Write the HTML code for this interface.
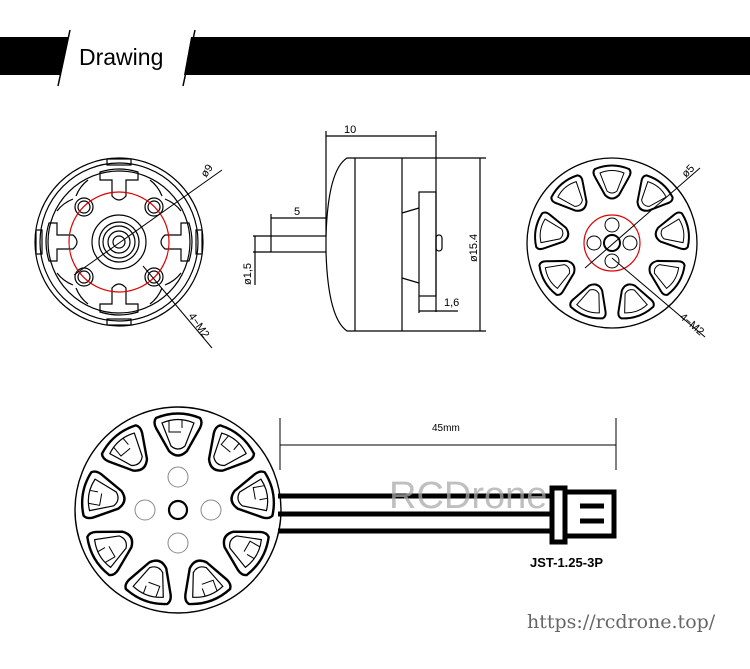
<!DOCTYPE html>
<html><head><meta charset="utf-8"><style>
body{margin:0;background:#fff;width:750px;height:669px;overflow:hidden}
svg{display:block}
text{font-family:"Liberation Sans",sans-serif}
</style></head><body>
<svg width="750" height="669" viewBox="0 0 750 669" xmlns="http://www.w3.org/2000/svg">
<defs>
<g id="pk">
 <path d="M-22,-18 Q0,-27 22,-18 Q25,-14 22,-8 L9,15 Q0,24 -9,15 L-22,-8 Q-25,-14 -22,-18Z" fill="none" stroke="#000" stroke-width="2.4"/>
 <path d="M-16,-13 Q0,-20 16,-13 L7,10 Q0,16 -7,10Z" fill="none" stroke="#000" stroke-width="1.2"/>
 <path d="M-9,-15 L-9,-4 L3,-4 M4,-16 L4,-8" fill="none" stroke="#000" stroke-width="1"/>
</g>
<g id="pk2">
 <path d="M-17,-14 Q0,-21 17,-14 Q20,-11 17,-6 L7,12 Q0,19 -7,12 L-17,-6 Q-20,-11 -17,-14Z" fill="none" stroke="#000" stroke-width="2"/>
 <path d="M-12,-10 Q0,-15 12,-10 L5,8 Q0,12 -5,8Z" fill="none" stroke="#000" stroke-width="1"/>
</g>
</defs>
<!-- header -->
<polygon points="0,37 68,37 60,75 0,75" fill="#000"/>
<polygon points="191,37 750,37 750,75 184,75" fill="#000"/>
<line x1="70" y1="30" x2="58" y2="86" stroke="#000" stroke-width="1.5"/>
<line x1="195" y1="30" x2="183" y2="86" stroke="#000" stroke-width="1.5"/>
<text x="79" y="65" font-size="23" fill="#000">Drawing</text>

<!-- left front view -->
<g fill="none" stroke="#000" stroke-width="1.2">
<circle cx="119" cy="242" r="84"/>
<circle cx="119" cy="242" r="79"/>
<circle cx="119" cy="242" r="71"/>
<g id="tt">
<path d="M100,172 Q119,166 138,172 L138,180 L126,180 L126,196 Q119,204 112,196 L112,180 L100,180Z"/>
<rect x="107" y="159" width="24" height="6"/>
<path d="M88,180 Q80,186 76,196 M150,180 Q158,186 162,196"/>
</g>
<use href="#tt" transform="rotate(90 119 242)"/>
<use href="#tt" transform="rotate(180 119 242)"/>
<use href="#tt" transform="rotate(270 119 242)"/>
<circle cx="84" cy="207" r="9"/><circle cx="84" cy="207" r="6"/>
<circle cx="154" cy="207" r="9"/><circle cx="154" cy="207" r="6"/>
<circle cx="84" cy="277" r="9"/><circle cx="84" cy="277" r="6"/>
<circle cx="154" cy="277" r="9"/><circle cx="154" cy="277" r="6"/>
<circle cx="119" cy="242" r="27"/>
<circle cx="119" cy="242" r="20"/>
<circle cx="119" cy="242" r="16"/>
<circle cx="119" cy="242" r="11"/>
<circle cx="119" cy="242" r="6"/>
</g>
<circle cx="119" cy="242" r="50" fill="none" stroke="#d00" stroke-width="1.2"/>
<line x1="74" y1="275" x2="222" y2="170" stroke="#000" stroke-width="1"/>
<line x1="143" y1="266" x2="212" y2="348" stroke="#000" stroke-width="1"/>
<text font-size="11" transform="translate(206,178) rotate(-55)">ø9</text>
<text font-size="11" transform="translate(188,316) rotate(55)">4−M2</text>

<!-- side view -->
<g fill="none" stroke="#000" stroke-width="1.2">
<line x1="326" y1="136" x2="436" y2="136"/>
<line x1="326" y1="131" x2="326" y2="236"/>
<line x1="436" y1="131" x2="436" y2="312"/>
<path d="M402,158 L347,158 Q328,170 326,236"/>
<path d="M326,252 Q328,318 347,331 L402,331"/>
<line x1="402" y1="158" x2="402" y2="331"/>
<line x1="355" y1="158" x2="355" y2="331"/>
<line x1="402" y1="158" x2="486" y2="158"/>
<line x1="402" y1="331" x2="486" y2="331"/>
<line x1="480" y1="158" x2="480" y2="331"/>
<rect x="419" y="192" width="17" height="104"/>
<line x1="402" y1="213" x2="419" y2="208"/>
<line x1="402" y1="278" x2="419" y2="283"/>
<rect x="436" y="235" width="6" height="16" rx="3"/>
<rect x="271" y="236" width="55" height="16"/>
<line x1="271" y1="218" x2="326" y2="218"/>
<line x1="271" y1="214" x2="271" y2="236"/>
<line x1="253" y1="236" x2="271" y2="236"/>
<line x1="253" y1="252" x2="271" y2="252"/>
<line x1="255" y1="236" x2="255" y2="285"/>
<line x1="419" y1="296" x2="419" y2="313"/>
<line x1="419" y1="311" x2="458" y2="311"/>
</g>
<text x="344" y="133" font-size="11">10</text>
<text x="294" y="215" font-size="11">5</text>
<text x="444" y="306" font-size="11">1,6</text>
<text font-size="11" transform="translate(251,285) rotate(-90)">ø1,5</text>
<text font-size="11" transform="translate(477,262) rotate(-90)">ø15.4</text>

<!-- right front view -->
<g fill="none" stroke="#000">
<circle cx="612" cy="243" r="85" stroke-width="1.3"/>
<g transform="translate(612,243)">
<use href="#pk2" transform="rotate(180) translate(0,60) rotate(180)"/>
<use href="#pk2" transform="rotate(220) translate(0,60) rotate(180)"/>
<use href="#pk2" transform="rotate(260) translate(0,60) rotate(180)"/>
<use href="#pk2" transform="rotate(300) translate(0,60) rotate(180)"/>
<use href="#pk2" transform="rotate(340) translate(0,60) rotate(180)"/>
<use href="#pk2" transform="rotate(20) translate(0,60) rotate(180)"/>
<use href="#pk2" transform="rotate(60) translate(0,60) rotate(180)"/>
<use href="#pk2" transform="rotate(100) translate(0,60) rotate(180)"/>
<use href="#pk2" transform="rotate(140) translate(0,60) rotate(180)"/>
<circle r="8" stroke-width="2"/>
<circle cx="0" cy="-18" r="7" stroke-width="1"/>
<circle cx="0" cy="18" r="7" stroke-width="1"/>
<circle cx="-18" cy="0" r="7" stroke-width="1"/>
<circle cx="18" cy="0" r="7" stroke-width="1"/>
</g>
</g>
<circle cx="612" cy="243" r="28" fill="none" stroke="#d00" stroke-width="1.2"/>
<line x1="585" y1="268" x2="700" y2="168" stroke="#000" stroke-width="1"/>
<line x1="612" y1="258" x2="705" y2="337" stroke="#000" stroke-width="1"/>
<text font-size="11" transform="translate(686,178) rotate(-45)">ø5</text>
<text font-size="11" transform="translate(679,318) rotate(40)">4−M2</text>

<!-- bottom view -->
<g fill="none" stroke="#000">
<circle cx="178" cy="510" r="103" stroke-width="1.4"/>
<g transform="translate(178,510)">
<use href="#pk" transform="rotate(180) translate(0,74) rotate(180)"/>
<use href="#pk" transform="rotate(220) translate(0,74) rotate(180)"/>
<use href="#pk" transform="rotate(260) translate(0,74) rotate(180)"/>
<use href="#pk" transform="rotate(300) translate(0,74) rotate(180)"/>
<use href="#pk" transform="rotate(340) translate(0,74) rotate(180)"/>
<use href="#pk" transform="rotate(20) translate(0,74) rotate(180)"/>
<use href="#pk" transform="rotate(60) translate(0,74) rotate(180)"/>
<use href="#pk" transform="rotate(100) translate(0,74) rotate(180)"/>
<use href="#pk" transform="rotate(140) translate(0,74) rotate(180)"/>
<circle r="9" stroke-width="2.2"/>
<circle cx="0" cy="-33" r="10" stroke="#888" stroke-width="1"/>
<circle cx="0" cy="33" r="10" stroke="#888" stroke-width="1"/>
<circle cx="-33" cy="0" r="10" stroke="#888" stroke-width="1"/>
<circle cx="33" cy="0" r="10" stroke="#888" stroke-width="1"/>
</g>
</g>
<g stroke="#000" stroke-width="5">
<line x1="278" y1="496" x2="552" y2="496"/>
<line x1="278" y1="514" x2="552" y2="514"/>
<line x1="278" y1="531" x2="552" y2="531"/>
</g>
<g fill="none" stroke="#000" stroke-width="5">
<rect x="552" y="488" width="13" height="54"/>
<path d="M565,492 L614,492 L614,536 L565,536"/>
</g>
<g stroke="#000" stroke-width="5"><line x1="580" y1="506" x2="604" y2="506"/><line x1="580" y1="521" x2="604" y2="521"/></g>
<g stroke="#000" stroke-width="1">
<line x1="280" y1="418" x2="280" y2="470"/>
<line x1="616" y1="418" x2="616" y2="470"/>
<line x1="280" y1="445" x2="616" y2="445"/>
</g>
<text x="432" y="431" font-size="10">45mm</text>
<text x="389" y="508" font-size="38" fill="#aaa" fill-opacity="0.75">RCDrone</text>
<text x="530" y="567" font-size="13" font-weight="bold">JST-1.25-3P</text>
<text x="527" y="628" font-size="19" fill="#666" style="font-family:'DejaVu Serif','Liberation Serif',serif">https://rcdrone.top/</text>
</svg>
</body></html>
